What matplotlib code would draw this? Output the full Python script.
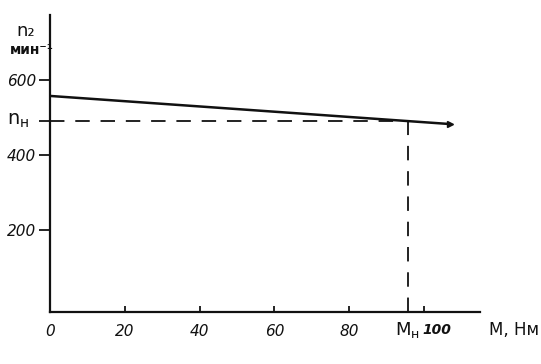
import matplotlib
matplotlib.use("Agg")
import matplotlib.pyplot as plt
from matplotlib.transforms import blended_transform_factory

plt.rcParams["mathtext.fontset"] = "dejavusans"

# data
M = [0, 107]
n2 = [557, 482]
M_nom = 95.7
n_nom = 491
x_ticks = [0, 20, 40, 60, 80]
y_ticks = [200, 400, 600]

fig = plt.figure(figsize=(5.41, 3.64), dpi=100)
ax = fig.add_axes([0.0924, 0.143, 0.795, 0.816])
ax.set_xlim(0, 115)
ax.set_ylim(-19, 773)

ax.plot(M, n2, color="#111111", lw=1.8, solid_capstyle="round")
ax.plot([M[-1]], [n2[-1]], marker=">", color="#111111", ms=4)
ax.plot([0, M_nom], [n_nom, n_nom], color="#111111", lw=1.3, dashes=(8, 6))
ax.plot([M_nom, M_nom], [-19, n_nom], color="#111111", lw=1.3, dashes=(8, 6))

for s in ["top", "right"]:
    ax.spines[s].set_visible(False)
for s in ["left", "bottom"]:
    ax.spines[s].set_linewidth(1.6)
    ax.spines[s].set_color("#111111")

tf = dict(fontsize=11, color="#111111", fontstyle="italic")
ax.set_xticks(x_ticks + [100])
ax.set_xticklabels([str(v) for v in x_ticks] + [""], **tf)
ax.tick_params(axis="x", direction="in", length=4, width=1.2, pad=9)
ax.set_yticks(y_ticks + [n_nom])
ax.set_yticklabels([str(v) for v in y_ticks] + [""], **tf)
ax.tick_params(axis="y", direction="out", length=8, width=1.2, pad=2)

xt = blended_transform_factory(ax.transData, ax.transAxes)
ax.text(M_nom, -0.06, r"M$_{\mathrm{н}}$", transform=xt, ha="center", va="center", fontsize=13, color="#111111")
ax.text(103.5, -0.06, "100", transform=xt, ha="center", va="center", fontsize=10, color="#111111", fontstyle="italic", fontweight="bold")
ax.text(1.08, -0.06, "M, Нм", transform=ax.transAxes, ha="center", va="center", fontsize=12, color="#111111", clip_on=False)

yt = blended_transform_factory(ax.transAxes, ax.transData)
ax.text(-0.075, n_nom, r"n$_{\mathrm{н}}$", transform=yt, ha="center", va="center", fontsize=14, color="#111111")
fig.text(0.048, 0.915, "n₂", ha="center", va="center", fontsize=13, color="#111111")
fig.text(0.058, 0.862, "мин⁻¹", ha="center", va="center", fontsize=10, color="#111111", fontweight="bold")

fig.savefig("out.png", dpi=100)
